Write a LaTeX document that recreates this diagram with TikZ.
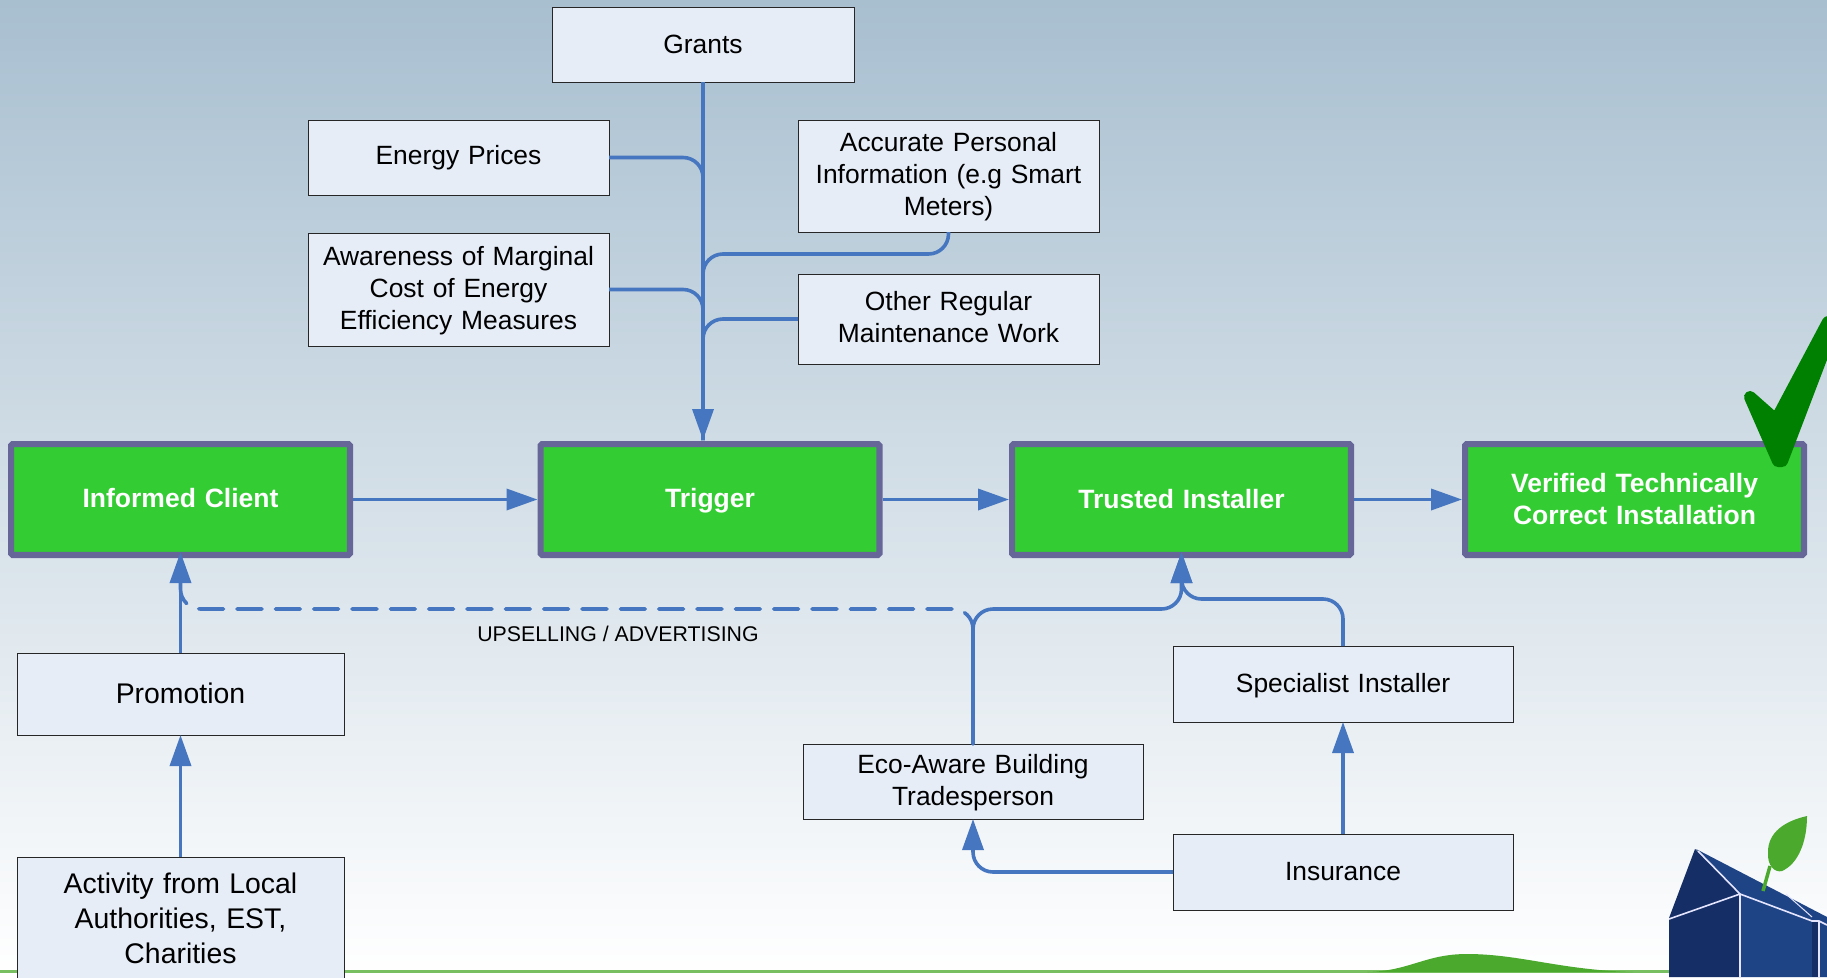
\documentclass[tikz,border=0pt]{standalone}
\usepackage{fontspec}
\setmainfont{Liberation Sans}
\usetikzlibrary{arrows.meta}
\definecolor{flowblue}{HTML}{4676C0}
\definecolor{boxfill}{HTML}{E6EDF7}
\definecolor{keygreen}{HTML}{33CC33}
\definecolor{keyedge}{HTML}{666699}
\definecolor{leafgreen}{HTML}{4BAA2D}
\definecolor{housedark}{HTML}{152F66}
\definecolor{houselight}{HTML}{1E4486}
\definecolor{skytop}{HTML}{A8BFD0}
\newcommand\liftline[2]{\raisebox{#1}[\height][\depth]{#2}}
\newcommand\liftblock[2]{\liftline{#1}{\begin{tabular}{@{}c@{}}#2\end{tabular}}}
\tikzset{
  x=1pt,y=-1pt,
  factorbox/.style={draw=black!85,line width=1pt,fill=boxfill,outer sep=0pt,inner sep=0pt,align=center,text width=#1-12pt,minimum width=#1},
  factorbox/.default=301pt,
  keybox/.style={draw=keyedge,line width=6.2pt,fill=keygreen,rounded corners=1.5pt,text=white,align=center,
    minimum width=338.8pt,minimum height=110.8pt,inner sep=0pt,text width=320pt,
    font=\fontsize{26.5}{32}\selectfont\bfseries},
  flowline/.style={draw=flowblue,line width=3.6pt,rounded corners=20pt},
  straightflow/.style={draw=flowblue,line width=3.6pt,-{Triangle[length=31pt,width=21pt]}},
  flowtip/.style={flowline,-{Triangle[length=31pt,width=21pt]}},
  dashflow/.style={draw=flowblue,line width=3.6pt,rounded corners=20pt,line cap=round,dash pattern=on 25pt off 13.33pt,dash phase=5.9pt},
  house line/.style={draw=white!90!blue,line width=1.6pt},
  boxtext/.style={font=\fontsize{26.4}{32}\selectfont},
  bigtext/.style={font=\fontsize{28.4}{35}\selectfont}
}
\begin{document}
\begin{tikzpicture}
\useasboundingbox (0,0) rectangle (1827,977);
\clip (0,0) rectangle (1827,977);
% background
\fill[top color=skytop,bottom color=white] (0,0) rectangle (1827,977);
% horizon and hill
\fill[leafgreen!75!white] (0,970) rectangle (1669,972.5);
\fill[leafgreen] (1367,972) .. controls (1410,971) and (1425,954) .. (1467,954)
  .. controls (1520,954) and (1560,970) .. (1633,972) -- cycle;
% house
\fill[housedark] (1695,849) -- (1740,894) -- (1740,977) -- (1669,977) -- (1669,918) -- cycle;
\fill[houselight] (1696,849) -- (1827,917) -- (1827,977) -- (1740,977) -- (1740,894) -- cycle;
\fill[housedark] (1812,922) -- (1819,922) -- (1819,977) -- (1812,977) -- cycle;
\draw[house line] (1698,851) -- (1740,894) -- (1669,919);
\draw[house line] (1740,894) -- (1740,977);
\draw[house line] (1740,894) -- (1812,921) -- (1819,921) -- (1827,925);
\draw[house line] (1819,921) -- (1819,977);
\draw[house line,line width=1pt] (1786,894) -- (1812,917);
% leaf
\draw[leafgreen,line width=3.5pt] (1770,866) -- (1763,891);
\fill[leafgreen] (1807,816) .. controls (1785,821) and (1768,832) .. (1768,852)
  .. controls (1767,866) and (1775,873) .. (1782,871)
  .. controls (1798,864) and (1807,842) .. (1807,816) -- cycle;
% nodes
\node[factorbox=302pt,minimum height=75pt,boxtext] (grants) at (703,44.5) {Grants};
\node[factorbox,minimum height=75pt,boxtext] (energy) at (458.5,157.5) {Energy Prices};
\node[factorbox,minimum height=112pt,boxtext] (accurate) at (948.5,176) {\liftblock{-1.2pt}{Accurate Personal\\Information (e.g Smart\\Meters)}};
\node[factorbox,minimum height=113pt,boxtext] (aware) at (458.5,289.5) {\liftblock{-1.2pt}{Awareness of Marginal\\Cost of Energy\\Efficiency Measures}};
\node[factorbox,minimum height=90pt,boxtext] (other) at (948.5,319) {\liftblock{-1.3pt}{Other Regular\\Maintenance Work}};
\node[keybox] (informed) at (180.5,499.5) {\liftline{1pt}{Informed Client}};
\node[keybox] (trigger) at (710,499.5) {\liftline{-1pt}{Trigger}};
\node[keybox] (trusted) at (1181.5,499.5) {Trusted Installer};
\node[keybox] (verified) at (1634.5,499.5) {Verified Technically\\Correct Installation};
\node[factorbox=327pt,minimum height=82pt,bigtext] (promotion) at (180.5,694) {\liftline{1pt}{Promotion}};
\node[factorbox=327pt,minimum height=122pt,bigtext] (activity) at (180.5,918) {Activity from Local\\Authorities, EST,\\Charities};
\node[factorbox=340pt,minimum height=75pt,boxtext] (eco) at (973,781.5) {\liftblock{-2pt}{Eco-Aware Building\\Tradesperson}};
\node[factorbox=340pt,minimum height=76pt,boxtext] (specialist) at (1343,684) {\liftline{-1.2pt}{Specialist Installer}};
\node[factorbox=340pt,minimum height=76pt,boxtext] (insurance) at (1343,872) {Insurance};
\node[font=\fontsize{21.3}{24}\selectfont] (upsell) at (618,634) {UPSELLING / ADVERTISING};
% named connector points
\coordinate (triggertop) at (703,440);
\coordinate (dashcorner) at (180.5,609);
\coordinate (ecocorner) at (1181.5,609);
\coordinate (speccorner) at (1181.5,599);
% check mark
\filldraw[fill=green!50!black,draw=green!50!black,line width=12pt,line join=round]
  (1750,397) -- (1776,420) -- (1828,322) -- (1835,322) -- (1782,461) -- (1778,461) -- cycle;
% connectors
\draw[dashflow] (eco.north) |- (dashcorner) -- (informed.south);
\draw[flowline] (energy.east) -| (triggertop);
\draw[flowline] (aware.east) -| (triggertop);
\draw[flowline] (other.west) -| (triggertop);
\draw[flowline] (accurate.south) -- ++(0,22) -| (triggertop);
\draw[straightflow] (grants.south) -- (triggertop);
\draw[straightflow] (informed.east) -- (trigger.west);
\draw[straightflow] (trigger.east) -- (trusted.west);
\draw[straightflow] (trusted.east) -- (verified.west);
\draw[straightflow,shorten >=-6pt] (promotion.north) -- (informed.south);
\draw[straightflow] (activity.north) -- (promotion.south);
\draw[flowtip,shorten >=-6pt] (eco.north) |- (ecocorner) -- (trusted.south);
\draw[flowtip,shorten >=-6pt] (specialist.north) |- (speccorner) -- (trusted.south);
\draw[straightflow] (insurance.north) -- (specialist.south);
\draw[flowtip] (insurance.west) -| (eco.south);
\end{tikzpicture}
\end{document}
